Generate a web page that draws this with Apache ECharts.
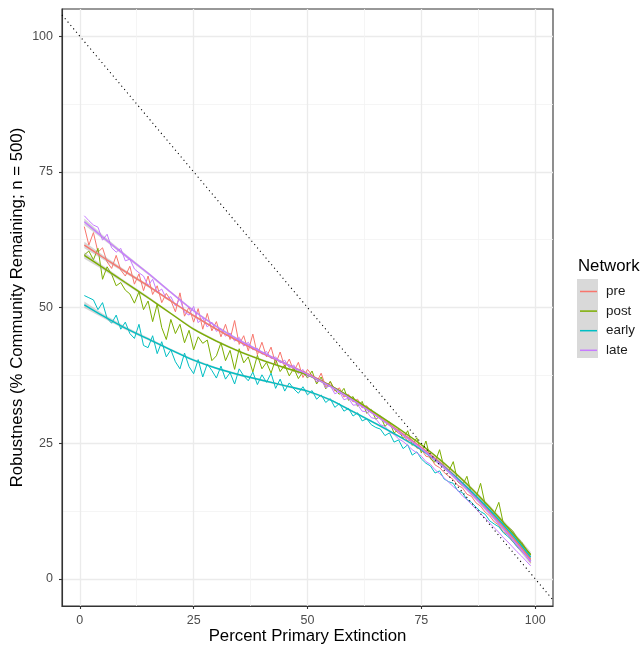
<!DOCTYPE html>
<html>
<head>
<meta charset="utf-8">
<script src="https://cdn.jsdelivr.net/npm/echarts@6/dist/echarts.min.js"></script>
<style>
  html, body { margin: 0; padding: 0; background: #fff; }
  #chart { width: 642px; height: 647px; }
</style>
</head>
<body>
<div id="chart"></div>
<script>
// percent primary extinction, 1..99
const extinction = [];
for (let i = 1; i <= 99; i++) extinction.push(i);

// raw robustness curves
const preRaw = [
  64.9, 61.5, 63.8, 60.2, 61.0, 58.4, 57.2, 59.6, 56.9, 55.8,
  57.6, 54.3, 56.2, 53.1, 55.8, 52.4, 54.0, 50.9, 52.6, 51.3,
  49.2, 52.7, 48.4, 50.1, 47.3, 49.8, 46.0, 48.9, 45.7, 47.4,
  44.6, 46.9, 44.1, 47.6, 43.2, 44.8, 42.0, 45.1, 41.3, 43.6,
  40.9, 42.7, 39.6, 41.8, 39.0, 40.5, 38.2, 39.9, 37.1, 38.6,
  37.5, 36.2, 37.9, 35.4, 36.3, 34.6, 35.2, 33.5, 34.0, 32.6,
  33.1, 31.5, 31.9, 30.7, 30.2, 29.6, 28.9, 28.4, 27.6, 26.8,
  26.5, 25.4, 25.6, 24.1, 23.9, 22.6, 22.4, 21.0, 20.5, 19.6,
  18.9, 18.3, 17.2, 16.8, 15.6, 15.2, 14.0, 13.4, 12.3, 11.6,
  10.5, 9.9, 8.6, 8.2, 6.9, 6.1, 5.1, 4.2, 3.0
];
const postRaw = [
  59.7, 60.4, 58.8, 60.9, 55.2, 57.5, 56.1, 54.0, 54.6, 53.2,
  52.5, 50.8, 52.9, 49.6, 51.2, 47.4, 50.6, 46.3, 44.1, 47.8,
  45.2, 46.9, 43.5, 45.8, 42.2, 44.6, 43.4, 44.0, 40.2, 41.1,
  43.5, 40.2, 42.1, 38.6, 42.4, 39.8, 40.9, 38.1, 41.2, 38.7,
  39.9, 37.9, 40.5, 38.2, 39.4, 37.4, 38.8, 36.9, 38.2, 37.0,
  38.3, 35.9, 37.2, 35.0, 36.4, 34.8, 34.0, 35.1, 32.9, 33.6,
  31.8, 32.7, 30.5, 31.2, 29.4, 30.0, 28.1, 28.9, 26.9, 27.5,
  25.8, 27.3, 24.6, 26.0, 23.2, 25.4, 22.1, 21.5, 23.8, 20.4,
  19.8, 21.6, 17.9, 17.2, 18.9, 15.6, 15.0, 17.6, 13.7, 12.4,
  12.0, 14.1, 10.2, 9.6, 8.9, 7.6, 6.8, 5.5, 4.6
];
const earlyRaw = [
  52.2, 51.8, 51.4, 49.6, 50.9, 48.0, 47.1, 48.6, 46.0, 47.3,
  45.2, 44.3, 46.9, 43.0, 42.6, 44.8, 41.5, 43.7, 40.9, 42.2,
  40.0, 38.7, 41.6, 39.1, 37.8, 40.4, 37.2, 39.6, 38.4, 37.0,
  39.2, 36.8, 38.0, 35.9, 38.7, 37.4, 36.5, 38.1, 35.8, 37.6,
  36.2, 37.9, 35.1, 36.8, 34.6, 36.1, 35.0, 34.2, 35.4, 33.9,
  34.7, 33.1, 33.9, 32.5, 33.2, 31.6, 32.3, 30.9, 31.4, 30.0,
  30.6, 29.1, 29.5, 28.4, 27.9, 27.6, 26.4, 26.9, 25.2, 25.6,
  24.0, 24.7, 22.8, 23.4, 22.1, 21.3, 20.8, 19.5, 19.9, 18.4,
  17.9, 17.6, 16.2, 15.9, 14.6, 14.1, 13.2, 12.4, 11.9, 10.7,
  10.1, 9.6, 8.5, 7.8, 7.0, 5.9, 5.2, 4.4, 3.4
];
const lateRaw = [
  66.9, 66.0, 65.2, 64.8, 62.4, 63.5, 61.0, 60.2, 60.9, 58.6,
  58.9, 57.1, 56.4, 55.8, 54.0, 55.2, 52.8, 53.4, 51.6, 52.0,
  50.3, 51.6, 49.1, 48.6, 50.2, 47.2, 48.1, 46.4, 47.3, 45.6,
  46.1, 44.7, 45.3, 43.8, 44.5, 42.9, 43.6, 42.2, 42.5, 41.4,
  41.9, 40.6, 40.9, 39.8, 40.3, 38.9, 39.4, 37.8, 38.6, 37.2,
  37.6, 36.3, 36.7, 35.2, 35.6, 34.1, 34.5, 33.0, 33.3, 32.0,
  32.1, 30.9, 30.8, 29.7, 29.5, 28.4, 28.1, 27.1, 26.6, 25.8,
  25.3, 24.6, 23.8, 23.2, 22.6, 21.6, 21.1, 20.1, 19.4, 18.6,
  17.8, 17.0, 16.3, 15.3, 14.6, 13.7, 12.9, 12.0, 11.2, 10.3,
  9.4, 8.6, 7.6, 6.8, 5.9, 5.0, 4.2, 3.3, 2.4
];

// loess fits, sampled
const smoothX = [1, 5, 10, 15, 20, 25, 30, 35, 40, 45, 50, 55, 60, 65, 70, 75, 80, 85, 90, 95, 99];
const preFit   = [61.5, 59.3, 56.6, 54.0, 51.2, 48.5, 46.0, 43.7, 41.6, 39.7, 37.8, 35.6, 33.0, 30.2, 27.3, 24.2, 20.8, 16.8, 12.4, 7.7, 3.6];
const postFit  = [59.6, 57.4, 54.6, 51.8, 48.9, 46.0, 43.8, 41.9, 40.3, 38.9, 37.6, 35.6, 33.2, 30.5, 27.7, 24.7, 21.3, 17.5, 13.2, 8.5, 4.4];
const earlyFit = [50.5, 48.5, 46.2, 44.2, 42.2, 40.3, 38.8, 37.6, 36.6, 35.6, 34.6, 33.0, 30.8, 28.6, 26.3, 23.8, 20.6, 16.9, 12.7, 8.1, 4.0];
const lateFit  = [65.8, 63.0, 59.6, 56.3, 52.8, 49.4, 46.5, 44.0, 41.8, 39.7, 37.7, 35.5, 32.9, 30.1, 27.1, 24.0, 20.5, 16.5, 12.1, 7.3, 3.2];
// half width of the confidence band
const fitSE = [0.6, 0.4, 0.3, 0.25, 0.2, 0.2, 0.2, 0.2, 0.2, 0.2, 0.2, 0.2, 0.2, 0.2, 0.2, 0.2, 0.25, 0.3, 0.35, 0.45, 0.6];

// 1:1 reference line (intercept 100, slope -1)
const refIntercept = 100;
const refSlope = -1;

const networks = ['pre', 'post', 'early', 'late'];
const colors = ['#F8766D', '#7CAE00', '#00BFC4', '#C77CFF'];
const rawData = [preRaw, postRaw, earlyRaw, lateRaw];
const fitData = [preFit, postFit, earlyFit, lateFit];

const xTicks = [0, 25, 50, 75, 100];
const yTicks = [0, 25, 50, 75, 100];
const xMinor = [12.5, 37.5, 62.5, 87.5];
const yMinor = [12.5, 37.5, 62.5, 87.5];

const X_MIN = -3.9, X_MAX = 103.9, Y_MIN = -5, Y_MAX = 105;
const FONT = 'Liberation Sans, Arial, Helvetica, sans-serif';

const chart = echarts.init(document.getElementById('chart'), null, { renderer: 'canvas' });

const series = [];

// raw lines
networks.forEach((n, i) => {
  series.push({
    name: n,
    type: 'line',
    data: extinction.map((x, k) => [x, rawData[i][k]]),
    showSymbol: false,
    symbol: 'none',
    lineStyle: { color: colors[i], width: 1 },
    itemStyle: { color: colors[i] },
    z: 3,
    animation: false
  });
});

// confidence ribbons: one quad per pair of neighbouring fit samples
networks.forEach((n, i) => {
  const band = smoothX.map((x, k) => [x, fitData[i][k] - fitSE[k], fitData[i][k] + fitSE[k]]);
  series.push({
    name: n + '_se',
    type: 'custom',
    data: band,
    encode: { x: 0, y: [1, 2] },
    silent: true,
    z: 4,
    renderItem: function (params, api) {
      const k = params.dataIndex;
      if (k >= band.length - 1) return null;
      const a = band[k], b = band[k + 1];
      const pts = [
        api.coord([a[0], a[1]]),
        api.coord([b[0], b[1]]),
        api.coord([b[0], b[2]]),
        api.coord([a[0], a[2]])
      ];
      return {
        type: 'polygon',
        shape: { points: pts },
        style: { fill: 'rgba(153,153,153,0.4)' }
      };
    },
    animation: false
  });
});

// fitted lines
networks.forEach((n, i) => {
  series.push({
    name: n,
    type: 'line',
    data: smoothX.map((x, k) => [x, fitData[i][k]]),
    symbol: 'none',
    smooth: 0.3,
    lineStyle: { color: colors[i], width: 1.4 },
    itemStyle: { color: colors[i] },
    z: 5,
    animation: false
  });
});

// dotted reference line
series.push({
  name: 'reference',
  type: 'line',
  data: [X_MIN, X_MAX].map(x => [x, refIntercept + refSlope * x]),
  symbol: 'none',
  lineStyle: { color: '#000', width: 1.1, type: [1.1, 3.3] },
  z: 6,
  clip: true,
  silent: true,
  animation: false
});

const gridBox = { left: 62, top: 9, right: 89, bottom: 41, containLabel: false, outerBoundsMode: 'none' };

function mainAxis(ticks, min, max, name, extra) {
  return Object.assign({
    type: 'value',
    min: min,
    max: max,
    name: name,
    nameLocation: 'middle',
    nameMoveOverlap: false,
    nameTextStyle: { fontFamily: FONT, fontSize: 16.8, color: '#000' },
    axisLine: { show: true, onZero: false, lineStyle: { color: '#333', width: 1.1 } },
    axisTick: { show: true, length: 3, customValues: ticks, lineStyle: { color: '#333', width: 1.1 } },
    axisLabel: { customValues: ticks, fontFamily: FONT, fontSize: 12.5, color: '#4d4d4d' },
    splitLine: { show: true, lineStyle: { color: '#ebebeb', width: 1.3 } }
  }, extra);
}

function minorAxis(minor, min, max, extra) {
  return Object.assign({
    type: 'value',
    min: min,
    max: max,
    axisLine: { show: false },
    axisTick: { show: false, customValues: minor },
    axisLabel: { show: false, customValues: minor },
    splitLine: { show: true, lineStyle: { color: '#f2f2f2', width: 0.8 } }
  }, extra);
}

const xMain = mainAxis(xTicks, X_MIN, X_MAX, 'Percent Primary Extinction', { gridIndex: 0, nameGap: 22, position: 'bottom' });
xMain.axisLabel.margin = 8;
const yMain = mainAxis(yTicks, Y_MIN, Y_MAX, 'Robustness (% Community Remaining; n = 500)', { gridIndex: 0, nameGap: 36, position: 'left' });
yMain.axisLabel.margin = 9;

chart.setOption({
  backgroundColor: '#fff',
  animation: false,
  grid: [
    Object.assign({ show: true, borderColor: '#333', borderWidth: 1.1, backgroundColor: 'transparent' }, gridBox),
    Object.assign({ show: false }, gridBox)
  ],
  xAxis: [xMain, minorAxis(xMinor, X_MIN, X_MAX, { gridIndex: 1 })],
  yAxis: [yMain, minorAxis(yMinor, Y_MIN, Y_MAX, { gridIndex: 1 })],
  legend: {
    data: networks,
    orient: 'vertical',
    left: 580,
    top: 285,
    padding: 0,
    itemWidth: 17,
    itemHeight: 13,
    itemGap: 6.6,
    selectedMode: false,
    textStyle: { fontFamily: FONT, fontSize: 13.4, color: '#1a1a1a', padding: [1, 0, 0, 4] },
    icon: 'path://M0,8 L17,8 L17,9.5 L0,9.5 Z'
  },
  graphic: [
    {
      type: 'text',
      left: 578,
      top: 258,
      style: { text: 'Network', fontFamily: FONT, fontSize: 16.8, fill: '#000' }
    },
    {
      type: 'rect',
      left: 577,
      top: 279,
      z: -1,
      shape: { width: 21, height: 79 },
      style: { fill: '#d9d9d9' }
    }
  ],
  series: series
});
</script>
</body>
</html>
